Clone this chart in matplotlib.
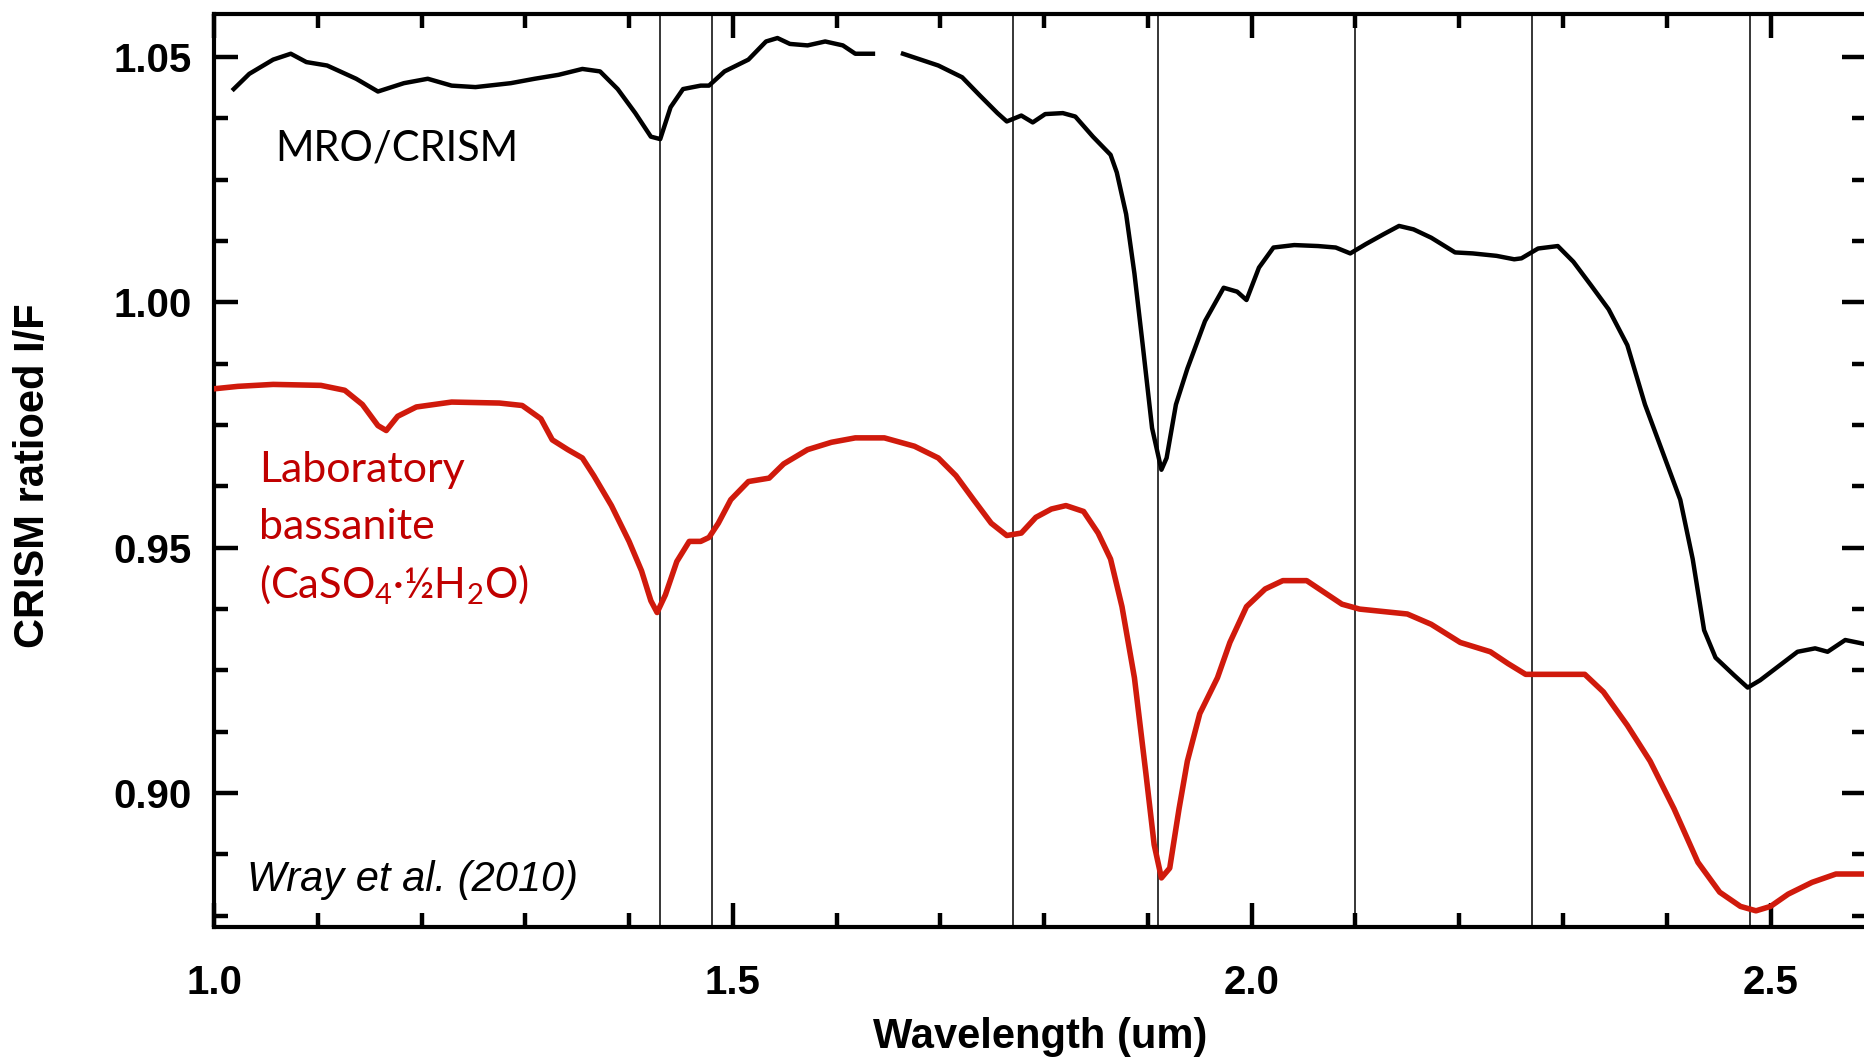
import numpy as np
import matplotlib
matplotlib.use("Agg")
import matplotlib.pyplot as plt
from matplotlib.ticker import MultipleLocator

# ---------------- data ----------------
crism_wl = [1.019, 1.034, 1.057, 1.074, 1.089, 1.109, 1.137, 1.158, 1.183, 1.206,
            1.229, 1.252, 1.286, 1.309, 1.332, 1.355, 1.372, 1.389, 1.406, 1.421,
            1.430, 1.440, 1.452, 1.469, 1.477, 1.492, 1.515, 1.532, 1.543, 1.555,
            1.572, 1.589, 1.606, 1.618, 1.635, 1.650, 1.664, 1.681, 1.698, 1.721,
            1.738, 1.755, 1.764, 1.778, 1.789, 1.801, 1.818, 1.830, 1.847, 1.864,
            1.870, 1.879, 1.887, 1.895, 1.904, 1.913, 1.918, 1.927, 1.938, 1.955,
            1.973, 1.986, 1.995, 2.007, 2.021, 2.041, 2.064, 2.081, 2.095, 2.110,
            2.127, 2.142, 2.156, 2.173, 2.196, 2.213, 2.236, 2.253, 2.260, 2.276,
            2.295, 2.310, 2.327, 2.344, 2.362, 2.379, 2.396, 2.413, 2.425, 2.436,
            2.447, 2.465, 2.478, 2.490, 2.508, 2.526, 2.543, 2.555, 2.572, 2.595]
crism_if = [1.0435, 1.0466, 1.0495, 1.0507, 1.0490, 1.0483, 1.0456, 1.0430, 1.0447, 1.0456,
            1.0442, 1.0439, 1.0447, 1.0456, 1.0464, 1.0476, 1.0471, 1.0435, 1.0386, 1.0338,
            1.0333, 1.0398, 1.0435, 1.0442, 1.0442, 1.0471, 1.0495, 1.0532, 1.0539, 1.0527,
            1.0524, 1.0532, 1.0524, 1.0507, 1.0507, np.nan, 1.0507, 1.0495, 1.0483, 1.0459,
            1.0422, 1.0386, 1.0369, 1.0381, 1.0367, 1.0384, 1.0386, 1.0379, 1.0338, 1.0301,
            1.0265, 1.0180, 1.0059, 0.9913, 0.9744, 0.9659, 0.9683, 0.9792, 0.9865, 0.9962,
            1.0030, 1.0022, 1.0005, 1.0071, 1.0112, 1.0117, 1.0115, 1.0112, 1.0100, 1.0119,
            1.0139, 1.0156, 1.0149, 1.0132, 1.0102, 1.0100, 1.0095, 1.0088, 1.0090, 1.0110,
            1.0115, 1.0083, 1.0035, 0.9986, 0.9913, 0.9792, 0.9695, 0.9598, 0.9477, 0.9332,
            0.9276, 0.9240, 0.9215, 0.9230, 0.9259, 0.9288, 0.9295, 0.9288, 0.9312, 0.9302]

lab_wl = [1.000, 1.023, 1.057, 1.103, 1.126, 1.143, 1.158, 1.166, 1.177, 1.195,
          1.229, 1.275, 1.297, 1.315, 1.326, 1.341, 1.355, 1.366, 1.383, 1.400,
          1.412, 1.421, 1.427, 1.435, 1.446, 1.458, 1.469, 1.477, 1.486, 1.498,
          1.515, 1.535, 1.549, 1.572, 1.595, 1.618, 1.646, 1.675, 1.698, 1.715,
          1.732, 1.749, 1.764, 1.778, 1.792, 1.807, 1.821, 1.838, 1.852, 1.864,
          1.875, 1.887, 1.898, 1.906, 1.913, 1.921, 1.930, 1.938, 1.950, 1.967,
          1.979, 1.995, 2.013, 2.030, 2.053, 2.070, 2.087, 2.104, 2.127, 2.150,
          2.173, 2.201, 2.230, 2.247, 2.264, 2.293, 2.321, 2.339, 2.362, 2.384,
          2.407, 2.430, 2.451, 2.471, 2.486, 2.500, 2.517, 2.540, 2.563, 2.595]
lab_if = [0.9824, 0.9829, 0.9833, 0.9831, 0.9821, 0.9792, 0.9749, 0.9739, 0.9768, 0.9787,
          0.9797, 0.9795, 0.9790, 0.9763, 0.9720, 0.9700, 0.9683, 0.9647, 0.9586, 0.9513,
          0.9453, 0.9392, 0.9368, 0.9404, 0.9472, 0.9513, 0.9513, 0.9521, 0.9550, 0.9598,
          0.9635, 0.9642, 0.9671, 0.9700, 0.9715, 0.9724, 0.9724, 0.9707, 0.9683, 0.9647,
          0.9598, 0.9550, 0.9525, 0.9530, 0.9562, 0.9579, 0.9586, 0.9574, 0.9530, 0.9477,
          0.9380, 0.9235, 0.9041, 0.8895, 0.8827, 0.8847, 0.8968, 0.9065, 0.9162, 0.9235,
          0.9307, 0.9380, 0.9416, 0.9433, 0.9433, 0.9409, 0.9385, 0.9375, 0.9370, 0.9365,
          0.9344, 0.9307, 0.9288, 0.9264, 0.9242, 0.9242, 0.9242, 0.9206, 0.9138, 0.9065,
          0.8968, 0.8859, 0.8798, 0.8769, 0.8760, 0.8769, 0.8794, 0.8818, 0.8835, 0.8835]

band_centers = [1.43, 1.48, 1.77, 1.91, 2.10, 2.27, 2.48]

x_ticks = [1.0, 1.5, 2.0, 2.5]
x_ticklabels = ["1.0", "1.5", "2.0", "2.5"]
y_ticks = [0.90, 0.95, 1.00, 1.05]
y_ticklabels = ["0.90", "0.95", "1.00", "1.05"]

# ---------------- figure ----------------
plt.rcParams['mathtext.fontset'] = 'custom'
plt.rcParams['mathtext.rm'] = 'Lato'
plt.rcParams['mathtext.it'] = 'Lato:italic'

W, H = 1864, 1061
fig = plt.figure(figsize=(W / 100, H / 100), dpi=100)
ax = fig.add_axes([214 / W, 1 - 927 / H, (1866 - 214) / W, (927 - 14) / H])

ax.set_xlim(1.0, 2.592)
ax.set_ylim(0.8727, 1.0588)

for b in band_centers:
    ax.axvline(b, color='black', lw=1.1, zorder=1)

ax.plot(crism_wl, crism_if, color='black', lw=3.2, zorder=3)
ax.plot(lab_wl, lab_if, color='#d01a0c', lw=4.0, zorder=3)

# axes styling
for s in ax.spines.values():
    s.set_linewidth(3.0)
ax.set_xticks(x_ticks)
ax.set_xticklabels(x_ticklabels)
ax.set_yticks(y_ticks)
ax.set_yticklabels(y_ticklabels)
ax.xaxis.set_minor_locator(MultipleLocator(0.1))
ax.yaxis.set_minor_locator(MultipleLocator(0.0125))
ax.tick_params(which='both', direction='in', top=True, right=True, color='black')
ax.tick_params(which='major', length=17, width=3.2)
ax.tick_params(which='minor', length=10, width=3.2)
ax.tick_params(axis='y', which='major', pad=16)
ax.tick_params(axis='x', which='major', pad=27)
for lab in ax.get_xticklabels() + ax.get_yticklabels():
    lab.set_fontfamily('Liberation Sans')
    lab.set_fontweight('bold')
    lab.set_fontsize(29)

ax.set_xlabel("Wavelength (um)", fontfamily='Liberation Sans', fontweight='bold', fontsize=30)
ax.xaxis.label.set_va('center')
ax.xaxis.set_label_coords(0.5, -0.1205)
ax.set_ylabel("CRISM ratioed I/F", fontfamily='Liberation Sans', fontweight='bold', fontsize=30)
ax.yaxis.label.set_va('center')
ax.yaxis.set_label_coords(-0.1096, 0.494)

# annotations
ax.text(1.0595, 1.0313, "MRO/CRISM", fontfamily='Lato', fontsize=30,
        color='black', ha='left', va='center')
red_txt = '#c00000'
ax.text(1.0435, 0.9659, "Laboratory", fontfamily='Lato', fontsize=31,
        color=red_txt, ha='left', va='center')
ax.text(1.0435, 0.9542, "bassanite", fontfamily='Lato', fontsize=31,
        color=red_txt, ha='left', va='center')
ax.text(1.0435, 0.9424, r"(CaSO$_\mathregular{4}$·½H$_\mathregular{2}$O)",
        fontfamily='Lato', fontsize=30, color=red_txt, ha='left', va='center')
ax.text(1.032, 0.8823, "Wray et al. (2010)", fontfamily='Liberation Sans',
        style='italic', fontsize=30, color='black', ha='left', va='center')

fig.savefig("out.png", dpi=100)
